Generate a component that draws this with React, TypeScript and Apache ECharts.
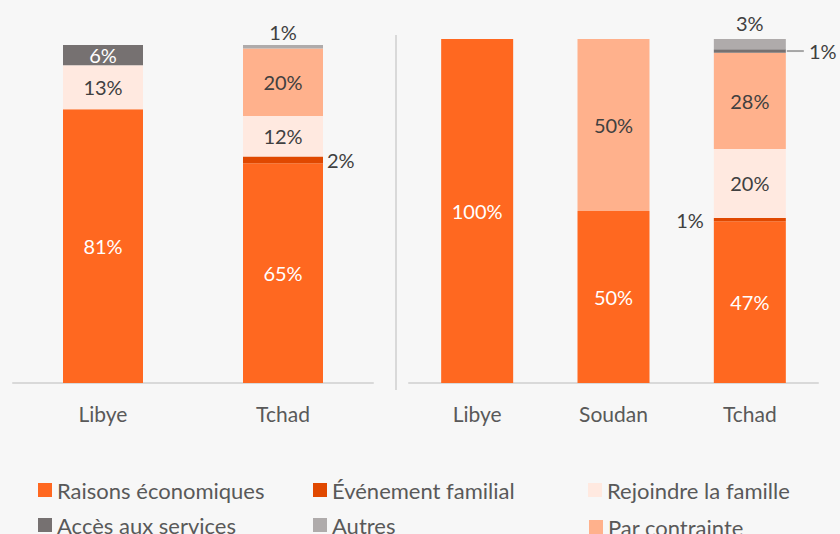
import React, { useEffect, useRef } from 'react';
import * as echarts from 'echarts';

const leftCategories = ['Libye', 'Tchad'];
const rightCategories = ['Libye', 'Soudan', 'Tchad'];

const seriesNames = [
  'Raisons économiques',
  'Événement familial',
  'Rejoindre la famille',
  'Par contrainte',
  'Accès aux services',
  'Autres',
];

// Left panel (stack order bottom -> top)
const leftRaisons = [81, 65];
const leftEvenement = [0, 2];
const leftRejoindre = [13, 12];
const leftContrainte = [0, 20];
const leftAcces = [6, 0];
const leftAutres = [0, 1];

// Right panel
const rightRaisons = [100, 50, 47];
const rightEvenement = [0, 0, 1];
const rightRejoindre = [0, 0, 20];
const rightContrainte = [0, 50, 28];
const rightAcces = [0, 0, 1];
const rightAutres = [0, 0, 3];

const colors = ['#FF6820', '#E04800', '#FFE9E0', '#FFB18C', '#767171', '#AFABAB'];
const insideText = ['#ffffff', '#404040', '#404040', '#404040', '#ffffff', '#404040'];

const FONT = 'Lato, "Open Sans", sans-serif';
const DARK = '#404040';
const LABEL_SIZE = 20;

// label placement overrides: key = panel-seriesIndex-dataIndex
const overrides: Record<string, any> = {
  'L-5-1': { position: 'top', distance: 3, color: DARK },
  'L-1-1': { position: 'right', distance: 4, color: DARK },
  'R-5-2': { position: 'top', distance: 6, color: DARK },
  'R-1-2': { position: 'left', distance: 10, color: DARK },
  'R-4-2': {
    position: 'right',
    distance: 1,
    color: DARK,
    formatter: (p: any) => `{ln|}{t| ${p.value}%}`,
    rich: {
      ln: { width: 17, height: 2, backgroundColor: '#A6A6A6' },
      t: { fontSize: LABEL_SIZE, color: DARK, fontFamily: FONT },
    },
  },
};

function makeSeries(panel: 'L' | 'R', idx: number, values: number[]) {
  const axis = panel === 'L' ? 0 : 1;
  return {
    type: 'bar',
    name: seriesNames[idx],
    xAxisIndex: axis,
    yAxisIndex: axis,
    stack: panel,
    barWidth: panel === 'L' ? 80 : 72,
    itemStyle: { color: colors[idx] },
    label: {
      show: true,
      position: 'inside',
      color: insideText[idx],
      fontSize: LABEL_SIZE,
      fontFamily: FONT,
      formatter: (p: any) => (p.value > 0 ? `${p.value}%` : ''),
    },
    data: values.map((v, i) => {
      const o = overrides[`${panel}-${idx}-${i}`];
      return o ? { value: v, label: o } : { value: v };
    }),
  };
}

const leftData = [leftRaisons, leftEvenement, leftRejoindre, leftContrainte, leftAcces, leftAutres];
const rightData = [rightRaisons, rightEvenement, rightRejoindre, rightContrainte, rightAcces, rightAutres];

// legend layout: [seriesIndex, left, top]
const legendSlots: [number, number, number][] = [
  [0, 38, 479],
  [1, 313, 479],
  [2, 588, 479],
  [4, 38, 514],
  [5, 313, 514],
  [3, 589, 516],
];

export default function App() {
  const ref = useRef<HTMLDivElement>(null);
  useEffect(() => {
    if (!ref.current) return;
    const chart = echarts.init(ref.current, undefined, { renderer: 'svg' });
    const axisCommon = {
      type: 'category',
      axisLine: { lineStyle: { color: '#D9D9D9', width: 2 } },
      axisTick: { show: false },
      axisLabel: { color: '#595959', fontSize: 21, fontFamily: FONT, margin: 20 },
    };
    chart.setOption({
      animation: false,
      backgroundColor: '#F7F7F7',
      grid: [
        { left: 13, width: 360, top: 45, height: 338 },
        { left: 409, width: 409, top: 39, height: 344 },
      ],
      xAxis: [
        { ...axisCommon, gridIndex: 0, data: leftCategories },
        { ...axisCommon, gridIndex: 1, data: rightCategories },
      ],
      yAxis: [
        { type: 'value', gridIndex: 0, min: 0, max: 100, show: false },
        { type: 'value', gridIndex: 1, min: 0, max: 100, show: false },
      ],
      legend: legendSlots.map(([si, left, top]) => ({
        data: [seriesNames[si]],
        left,
        top,
        padding: 0,
        itemWidth: 14,
        itemHeight: 14,
        itemGap: 6,
        icon: 'rect',
        selectedMode: false,
        textStyle: { color: '#595959', fontSize: 22, fontFamily: FONT },
      })),
      graphic: [
        {
          type: 'line',
          shape: { x1: 396, y1: 35, x2: 396, y2: 390 },
          style: { stroke: '#D9D9D9', lineWidth: 2 },
        },
      ],
      series: [
        ...leftData.map((d, i) => makeSeries('L', i, d)),
        ...rightData.map((d, i) => makeSeries('R', i, d)),
      ],
    });
    return () => chart.dispose();
  }, []);
  return (
    <div
      ref={ref}
      style={{ position: 'fixed', left: 0, top: 0, width: 840, height: 534 }}
    />
  );
}
